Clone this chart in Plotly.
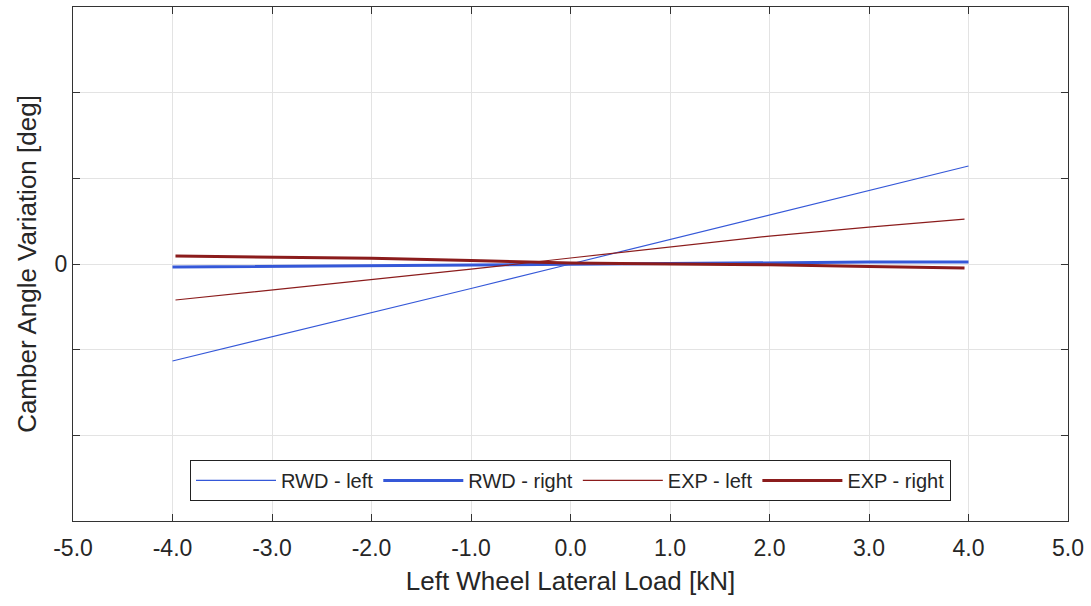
import plotly.graph_objects as go

# Left wheel lateral load [kN]
load_rwd = [-4.0, -3.0, -2.0, -1.0, 0.0, 1.0, 2.0, 3.0, 4.0]
load_exp = [-3.97, -3.0, -2.0, -1.0, 0.0, 1.0, 2.0, 3.0, 3.96]

# Camber angle variation [deg]
rwd_left = [-0.566, -0.425, -0.287, -0.143, 0.0, 0.143, 0.286, 0.428, 0.572]
rwd_right = [-0.018, -0.014, -0.010, -0.005, 0.0, 0.004, 0.009, 0.011, 0.012]
exp_left = [-0.210, -0.152, -0.094, -0.030, 0.035, 0.100, 0.163, 0.215, 0.262]
exp_right = [0.047, 0.040, 0.033, 0.020, 0.006, 0.000, -0.004, -0.014, -0.023]

x_ticks = [-5, -4, -3, -2, -1, 0, 1, 2, 3, 4, 5]
y_ticks = [-1.5, -1.0, -0.5, 0.0, 0.5, 1.0, 1.5]
y_labels = ["", "", "", "0", "", "", ""]

BLUE = "#3558d8"
RED = "#8b1c1c"
FONT = "Liberation Sans, Arial, sans-serif"
INK = "#262626"

fig = go.Figure()
fig.add_trace(go.Scatter(x=load_rwd, y=rwd_left, mode="lines", name="RWD - left",
                         line=dict(color=BLUE, width=1.2)))
fig.add_trace(go.Scatter(x=load_rwd, y=rwd_right, mode="lines", name="RWD - right",
                         line=dict(color=BLUE, width=3)))
fig.add_trace(go.Scatter(x=load_exp, y=exp_left, mode="lines", name="EXP - left",
                         line=dict(color=RED, width=1.2)))
fig.add_trace(go.Scatter(x=load_exp, y=exp_right, mode="lines", name="EXP - right",
                         line=dict(color=RED, width=3)))

axis_common = dict(
    showline=True, linecolor="#333333", linewidth=1, mirror="ticks",
    ticks="inside", ticklen=7, tickcolor="#333333",
    showgrid=True, gridcolor="#e3e3e3", gridwidth=1,
    zeroline=False, tickfont=dict(family=FONT, size=23, color=INK),
)

fig.update_layout(
    width=1091, height=606,
    margin=dict(l=73, r=23, t=7, b=85),
    paper_bgcolor="white", plot_bgcolor="white",
    font=dict(family=FONT, color=INK),
    xaxis=dict(range=[-5, 5], tickvals=x_ticks,
               ticktext=[f"{v:.1f}" for v in x_ticks],
               ticklabelstandoff=6,
               title=dict(text="Left Wheel Lateral Load [kN]",
                          font=dict(family=FONT, size=26, color=INK), standoff=12),
               **axis_common),
    yaxis=dict(range=[-1.5, 1.5], tickvals=y_ticks, ticktext=y_labels,
               title=dict(text="Camber Angle Variation [deg]",
                          font=dict(family=FONT, size=26, color=INK), standoff=10),
               **axis_common),
    legend=dict(orientation="h", x=0.5, xanchor="center", y=0.039, yanchor="bottom",
                bordercolor="#222222", borderwidth=1, bgcolor="white",
                font=dict(family=FONT, size=20, color=INK),
                itemwidth=80, tracegroupgap=0),
    showlegend=True,
)

fig.write_html("out.html")
